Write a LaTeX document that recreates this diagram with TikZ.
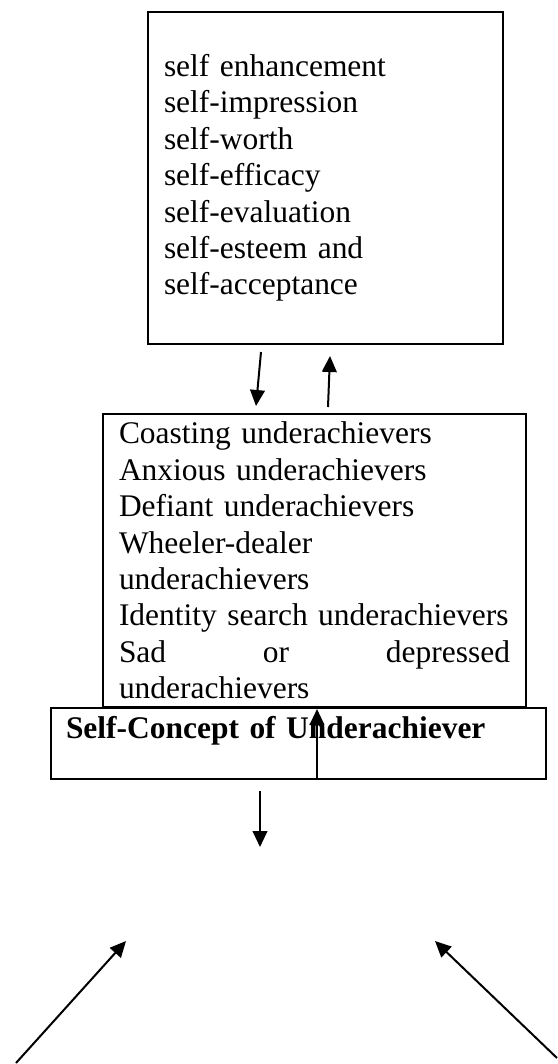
\documentclass[tikz,border=0pt]{standalone}
\usepackage{fontspec}
\setmainfont{Liberation Serif}
\usetikzlibrary{arrows.meta,positioning,calc}
\begin{document}
\begin{tikzpicture}[x=0.75pt, y=-0.75pt, >={Triangle[length=12pt,width=11pt]}, line width=1.5pt,
	   font=\fontsize{23.6}{27.3}\selectfont,
	   b/.style={draw, anchor=north west, align=left, inner xsep=12pt}]
	  \useasboundingbox (0,0) rectangle (557,1064);
	  \node[b, minimum width=266.25pt, minimum height=249pt, text width=242.25pt] (self) at (147,11) {self enhancement\\ self-impression\\ self-worth\\ self-efficacy\\ self-evaluation\\ self-esteem and\\ self-acceptance};
	  \node[b, minimum width=317.25pt, minimum height=219.75pt, text width=293.25pt] (types) at (102,413) {Coasting underachievers\\ Anxious underachievers\\ Defiant underachievers\\ Wheeler-dealer\\ underachievers\\ \mbox{Identity search underachievers}\\ Sad\hfill or\hfill depressed\\ underachievers};
	  \node[b, minimum width=371.25pt, text width=348.75pt, inner xsep=11.25pt, inner ysep=0pt, text height=22.5pt, text depth=30.75pt] (concept) at (50,707) {\textbf{Self-Concept of Underachiever}};
	  \coordinate (down) at (260,847);
	  \coordinate (l0) at (16,1063);
	  \coordinate (l1) at (126,941);
	  \coordinate (r0) at (557,1058);
	  \coordinate (r1) at (435,941);
	  \draw[->] ($(self.south west)+(114,7)$) -- ($(types.north west)+(154,-7)$);
	  \draw[->] ($(types.north west)+(226,-6)$) -- ($(self.south west)+(183,11)$);
	  \draw[->] ($(concept.south west)+(267,0)$) -- ($(types.south west)+(215,1)$);
	  \draw[->] ($(concept.south west)+(210,11)$) -- (down);
	  \draw[->] (l0) -- (l1);
	  \draw[->] (r0) -- (r1);
	\end{tikzpicture}
\end{document}
